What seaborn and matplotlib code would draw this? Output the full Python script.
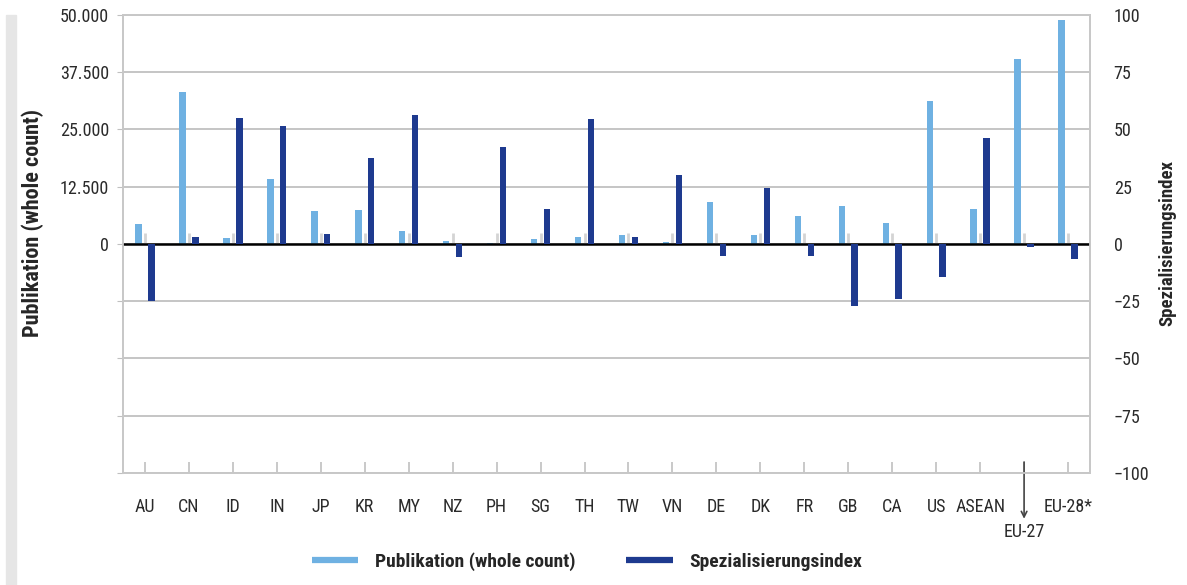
import pandas as pd
import matplotlib.pyplot as plt
import matplotlib.patches as mpatches
from matplotlib.lines import Line2D
from matplotlib.ticker import FuncFormatter
import seaborn as sns

# Werte
categories = ['AU', 'CN', 'ID', 'IN', 'JP', 'KR', 'MY', 'NZ', 'PH', 'SG', 'TH',
              'TW', 'VN', 'DE', 'DK', 'FR', 'GB', 'CA', 'US', 'ASEAN', 'EU-27', 'EU-28*']
tick_labels = ['AU', 'CN', 'ID', 'IN', 'JP', 'KR', 'MY', 'NZ', 'PH', 'SG', 'TH',
               'TW', 'VN', 'DE', 'DK', 'FR', 'GB', 'CA', 'US', 'ASEAN', '', 'EU-28*']
publications = [4300, 33200, 1250, 14200, 7150, 7400, 2770, 650, 200, 1100, 1530,
                1970, 440, 9180, 1970, 6100, 8300, 4590, 31250, 7650, 40400, 48950]
spec_index = [-24.7, 2.9, 55.0, 51.5, 4.2, 37.5, 56.3, -5.5, 42.3, 15.3, 54.5,
              3.0, 30.1, -5.1, 24.4, -5.1, -26.9, -23.9, -14.3, 46.3, -1.2, -6.4]

pub_label = 'Publikation (whole count)'
idx_label = 'Spezialisierungsindex'
hue_levels = [pub_label, 'gap', idx_label]

light_blue = '#6fb1e2'
dark_blue = '#1e3a8f'

df_pub = pd.DataFrame({'Land': categories, 'Wert': publications, 'Reihe': pub_label})
df_idx = pd.DataFrame({'Land': categories, 'Wert': spec_index, 'Reihe': idx_label})

sns.set_style('white')
plt.rcParams['font.family'] = ['Roboto Condensed', 'Open Sans Condensed',
                               'Liberation Sans Narrow', 'Roboto', 'DejaVu Sans']

fig = plt.figure(figsize=(11.87, 5.85), dpi=100)
ax = fig.add_axes([0.1036, 0.1915, 0.8147, 0.7829])
ax2 = ax.twinx()

palette = {pub_label: light_blue, 'gap': 'white', idx_label: dark_blue}
sns.barplot(data=df_pub, x='Land', y='Wert', hue='Reihe', order=categories,
            hue_order=hue_levels, palette=palette, width=0.44, dodge=True, ax=ax,
            legend=False, saturation=1, errorbar=None, linewidth=0)
sns.barplot(data=df_idx, x='Land', y='Wert', hue='Reihe', order=categories,
            hue_order=hue_levels, palette=palette, width=0.44, dodge=True, ax=ax2,
            legend=False, saturation=1, errorbar=None, linewidth=0)

n = len(categories)
grid_col = '#c0c0c0'
text_col = '#2a2a2a'

# linke Achse
ax.set_ylim(-50000, 50000)
ax.set_yticks(range(-50000, 50001, 12500))
ax.yaxis.set_major_formatter(FuncFormatter(
    lambda v, p: '' if v < 0 else f'{int(v):,}'.replace(',', '.')))
ax.grid(axis='y', color=grid_col, lw=1.3)
ax.set_axisbelow(True)
ax.tick_params(axis='y', length=4, color=grid_col, pad=6, labelsize=13,
               labelcolor=text_col)
ax.set_ylabel(pub_label, fontsize=16, fontweight='bold')
ax.yaxis.set_label_coords(-0.0817, 0.545)
ax.axhline(0, color='black', lw=1.8, zorder=5)

# rechte Achse
ax2.set_ylim(-100, 100)
ax2.set_yticks(range(-100, 101, 25))
ax2.tick_params(axis='y', length=0, pad=17, labelsize=13, labelcolor=text_col)
ax2.set_ylabel(idx_label, fontsize=13.5, fontweight='bold')
ax2.yaxis.set_label_coords(1.0703, 0.502)

# x-Achse
ax.set_xlim(-0.5, n - 0.5)
ax.set_xticks(range(n))
ax.set_xticklabels(tick_labels, fontsize=13, color=text_col)
ax.set_xlabel('')
ax2.set_xlabel('')
ax.tick_params(axis='x', direction='in', length=8, color=grid_col, width=1.2,
               pad=18, bottom=True)

# kleine Markierungen an der Nulllinie
ax.vlines(range(n), 0, 2500, color='#d4d4d4', lw=2, zorder=4)

for a in (ax, ax2):
    for s in a.spines.values():
        s.set_color('#c8c8c8')
        s.set_linewidth(1.3)

# EU-27 mit Pfeil
eu_pos = categories.index('EU-27')
ax.annotate('', xy=(eu_pos, -0.100), xycoords=('data', 'axes fraction'),
            xytext=(eu_pos, 0.024), textcoords=('data', 'axes fraction'),
            arrowprops=dict(arrowstyle='->', color='#444444', lw=1.2,
                            shrinkA=0, shrinkB=0))
ax.text(eu_pos, -0.128, 'EU-27', transform=ax.get_xaxis_transform(),
        ha='center', va='center', fontsize=13, color=text_col)

# grauer Balken links
fig.patches.append(mpatches.Rectangle((6 / 1187, 0), 10 / 1187, 1 - 15 / 585,
                                      transform=fig.transFigure,
                                      color='#e6e6e6', zorder=0))

handles = [Line2D([0], [0], color=light_blue, lw=4.5, solid_capstyle='butt'),
           Line2D([0], [0], color=dark_blue, lw=4.5, solid_capstyle='butt')]
fig.legend(handles, [pub_label, idx_label], loc='center',
           bbox_to_anchor=(0.4945, 0.04), ncol=2, frameon=False,
           prop={'size': 14, 'weight': 'bold'}, handlelength=2.4,
           columnspacing=2.6, handletextpad=0.85)

fig.savefig('out.png', dpi=100)
